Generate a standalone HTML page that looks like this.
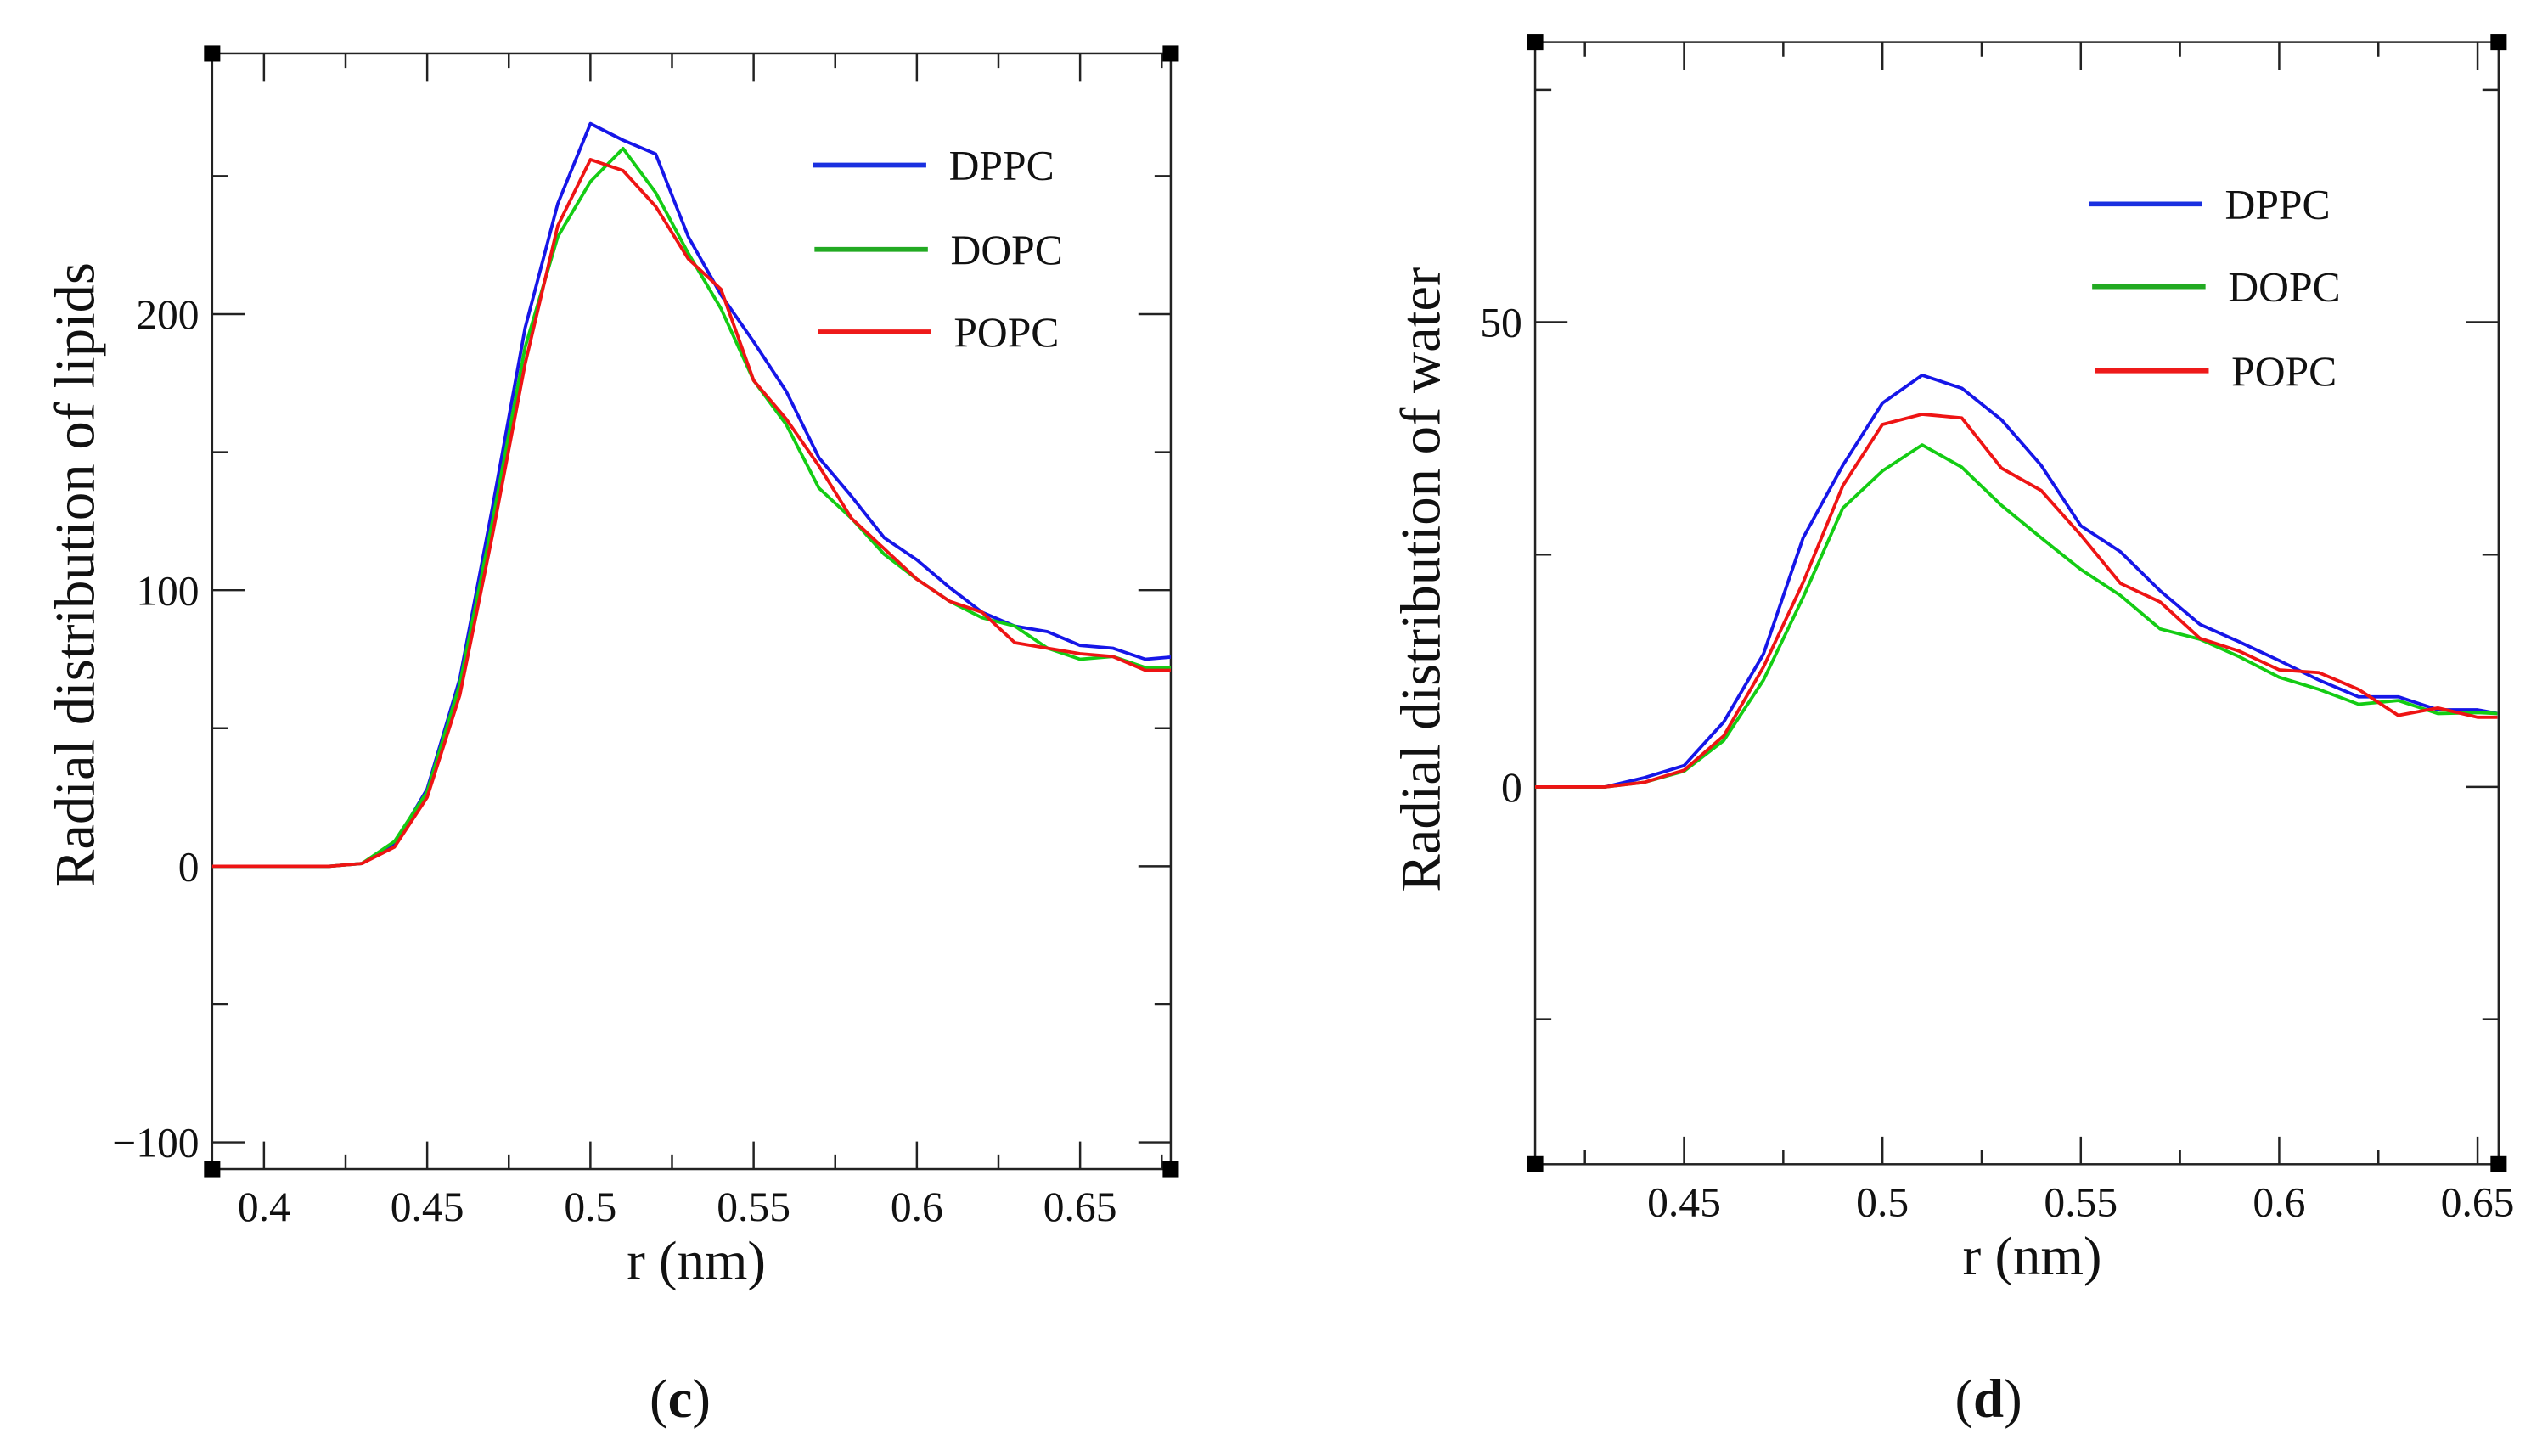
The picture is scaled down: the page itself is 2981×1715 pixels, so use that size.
<!DOCTYPE html>
<html><head><meta charset="utf-8"><style>
html,body{margin:0;padding:0;background:#fff;}
svg{display:block;}
text{font-family:"Liberation Serif",serif;fill:#111;}
</style></head><body>
<svg id="fig" width="2981" height="1715" viewBox="0 0 1563 899.2" xmlns="http://www.w3.org/2000/svg">
<rect width="1563" height="900" fill="#fff"/>
</svg>
<script>
// ---- Panel (c) data ----
const rC = [0.38,0.39,0.40,0.41,0.42,0.43,0.44,0.45,0.46,0.47,0.48,0.49,0.50,0.51,0.52,0.53,0.54,0.55,0.56,0.57,0.58,0.59,0.60,0.61,0.62,0.63,0.64,0.65,0.66,0.67,0.68];
const dppcC = [0,0,0,0,0,1,8,28,68,130,195,240,269,263,258,228,207,190,172,148,134,119,111,101,92,87,85,80,79,75,76];
const dopcC = [0,0,0,0,0,1,9,27,66,125,188,228,248,260,244,222,202,176,160,137,126,113,104,96,90,87,79,75,76,72,72];
const popcC = [0,0,0,0,0,1,7,25,62,120,182,232,256,252,239,220,209,176,162,145,126,115,104,96,92,81,79,77,76,71,71];
const xTicksC = [0.4,0.45,0.5,0.55,0.6,0.65];
const xTickLabelsC = ["0.4","0.45","0.5","0.55","0.6","0.65"];
const yTicksC = [-100,0,100,200];
const yTickLabelsC = ["\u2212100","0","100","200"];
// ---- Panel (d) data ----
const rD = [0.41,0.42,0.43,0.44,0.45,0.46,0.47,0.48,0.49,0.50,0.51,0.52,0.53,0.54,0.55,0.56,0.57,0.58,0.59,0.60,0.61,0.62,0.63,0.64,0.65,0.655];
const dppcD = [0,0,0,1,2.3,7,14.3,26.8,34.6,41.3,44.3,42.9,39.5,34.6,28.1,25.3,21.1,17.5,15.6,13.6,11.5,9.7,9.7,8.3,8.3,7.9];
const dopcD = [0,0,0,0.5,1.7,5,11.5,20.4,30,34,36.8,34.4,30.3,26.8,23.4,20.6,17,15.9,14,11.8,10.5,8.9,9.3,7.9,8,7.9];
const popcD = [0,0,0,0.5,1.8,5.5,12.9,22,32.4,39,40.1,39.7,34.3,31.9,27.1,21.9,19.9,16,14.6,12.6,12.3,10.5,7.7,8.5,7.5,7.5];
const xTicksD = [0.45,0.5,0.55,0.6,0.65];
const xTickLabelsD = ["0.45","0.5","0.55","0.6","0.65"];
const yTicksD = [0,50];
const yTickLabelsD = ["0","50"];
const seriesNames = ["DPPC","DOPC","POPC"];

const NS="http://www.w3.org/2000/svg";
const svg=document.getElementById('fig');
function mk(tag,attrs,parent){const e=document.createElementNS(NS,tag);for(const k in attrs)e.setAttribute(k,attrs[k]);(parent||svg).appendChild(e);return e;}

function panel(cfg){
  const g=mk('g',{});
  
  
  const {L,R,T,B}=cfg;
  const sx=v=>cfg.x0px+(v-cfg.x0)*cfg.xs;
  const sy=v=>cfg.y0px-v*cfg.ys;
  const xmin=cfg.x0+(L-cfg.x0px)/cfg.xs, xmax=cfg.x0+(R-cfg.x0px)/cfg.xs;
  const ymin=(cfg.y0px-B)/cfg.ys, ymax=(cfg.y0px-T)/cfg.ys;
  const frame=mk('rect',{x:L,y:T,width:R-L,height:B-T,fill:'none',stroke:'#222','stroke-width':1.3},g);
  
  
  [[L,T],[R,T],[L,B],[R,B]].forEach(p=>{const c=mk('rect',{x:p[0]-5,y:p[1]-5,width:10,height:10,fill:'#000'},g);
    
    });
  const step=cfg.xMinor;
  for(let v=Math.ceil(xmin/step-1e-9)*step; v<=xmax+1e-9; v+=step){
    const vv=Math.round(v*1000)/1000;
    const major=Math.abs(vv/0.05-Math.round(vv/0.05))<1e-6;
    const len=major?17:9;const x=sx(vv);
    mk('line',{x1:x,y1:B,x2:x,y2:B-len,stroke:'#222','stroke-width':1.3},g);
    mk('line',{x1:x,y1:T,x2:x,y2:T+len,stroke:'#222','stroke-width':1.3},g);
  }
  cfg.xTicks.forEach((v,i)=>{const t=mk('text',{x:sx(v),y:B+32,'text-anchor':'middle','font-size':26},g);t.textContent=cfg.xLabels[i];
    
    });
  for(let v=Math.ceil(ymin/cfg.yMinor)*cfg.yMinor; v<=ymax; v+=cfg.yMinor){
    const major=Math.abs(v/cfg.yMajor-Math.round(v/cfg.yMajor))<1e-6;const len=major?20:10;const y=sy(v);
    mk('line',{x1:L,y1:y,x2:L+len,y2:y,stroke:'#222','stroke-width':1.3},g);
    mk('line',{x1:R,y1:y,x2:R-len,y2:y,stroke:'#222','stroke-width':1.3},g);
  }
  cfg.yTicks.forEach((v,i)=>{const t=mk('text',{x:L-8,y:sy(v)+9,'text-anchor':'end','font-size':26},g);t.textContent=cfg.yLabels[i];
    
    });
  const xt=mk('text',{x:cfg.xTitleX,y:B+68,'text-anchor':'middle','font-size':34},g);xt.textContent='r (nm)';
  
  
  const yt=mk('text',{x:0,y:0,'text-anchor':'middle','font-size':35,transform:`translate(${cfg.yTitleX},${cfg.yTitleY}) rotate(-90)`},g);yt.textContent=cfg.yTitle;
  
  
  const cap=mk('text',{x:cfg.capX,y:875,'text-anchor':'middle','font-size':34},g);
  cap.innerHTML='(<tspan font-weight="bold">'+cfg.cap+'</tspan>)';
  
  
  const cid='clip'+cfg.cap;
  const cp=mk('clipPath',{id:cid},g);mk('rect',{x:L,y:T,width:R-L,height:B-T},cp);
  const colors=['#1616e8','#14cc14','#ee1414'];
  cfg.series.forEach((s,i)=>{
    const d=s.map((v,j)=>(j?'L':'M')+sx(cfg.r[j]).toFixed(2)+','+sy(v).toFixed(2)).join(' ');
    const p=mk('path',{d:d,fill:'none',stroke:colors[i],'stroke-width':2,'stroke-linejoin':'round','clip-path':`url(#${cid})`},g);
    
    
  });
  const legCols=['#1a30e0','#22aa22','#ee1a1a'];
  cfg.legend.forEach((l,i)=>{
    const le=mk('g',{},g);
    
    
    mk('line',{x1:l[0],y1:l[1],x2:l[0]+70,y2:l[1],stroke:legCols[i],'stroke-width':3},le);
    const t=mk('text',{x:l[0]+84,y:l[1]+9,'font-size':26},le);t.textContent=seriesNames[i];
  });
}
panel({name:'panel-c-lipids',L:131,R:723,T:33,B:722,x0:0.4,x0px:163,xs:2016,y0px:535,ys:1.705,
  xMinor:0.025,yMinor:50,yMajor:100,xTicks:xTicksC,xLabels:xTickLabelsC,yTicks:yTicksC,yLabels:yTickLabelsC,
  xTitleX:430,yTitle:'Radial distribution of lipids',yTitleX:58,yTitleY:355,cap:'c',capX:420,
  r:rC,series:[dppcC,dopcC,popcC],legend:[[502,102],[503,154],[505,205]]});
panel({name:'panel-d-water',L:948,R:1543,T:26,B:719,x0:0.45,x0px:1040,xs:2450,y0px:486,ys:5.74,
  xMinor:0.025,yMinor:25,yMajor:50,xTicks:xTicksD,xLabels:xTickLabelsD,yTicks:yTicksD,yLabels:yTickLabelsD,
  xTitleX:1255,yTitle:'Radial distribution of water',yTitleX:889,yTitleY:358,cap:'d',capX:1228,
  r:rD,series:[dppcD,dopcD,popcD],legend:[[1290,126],[1292,177],[1294,229]]});
</script>
</body></html>
